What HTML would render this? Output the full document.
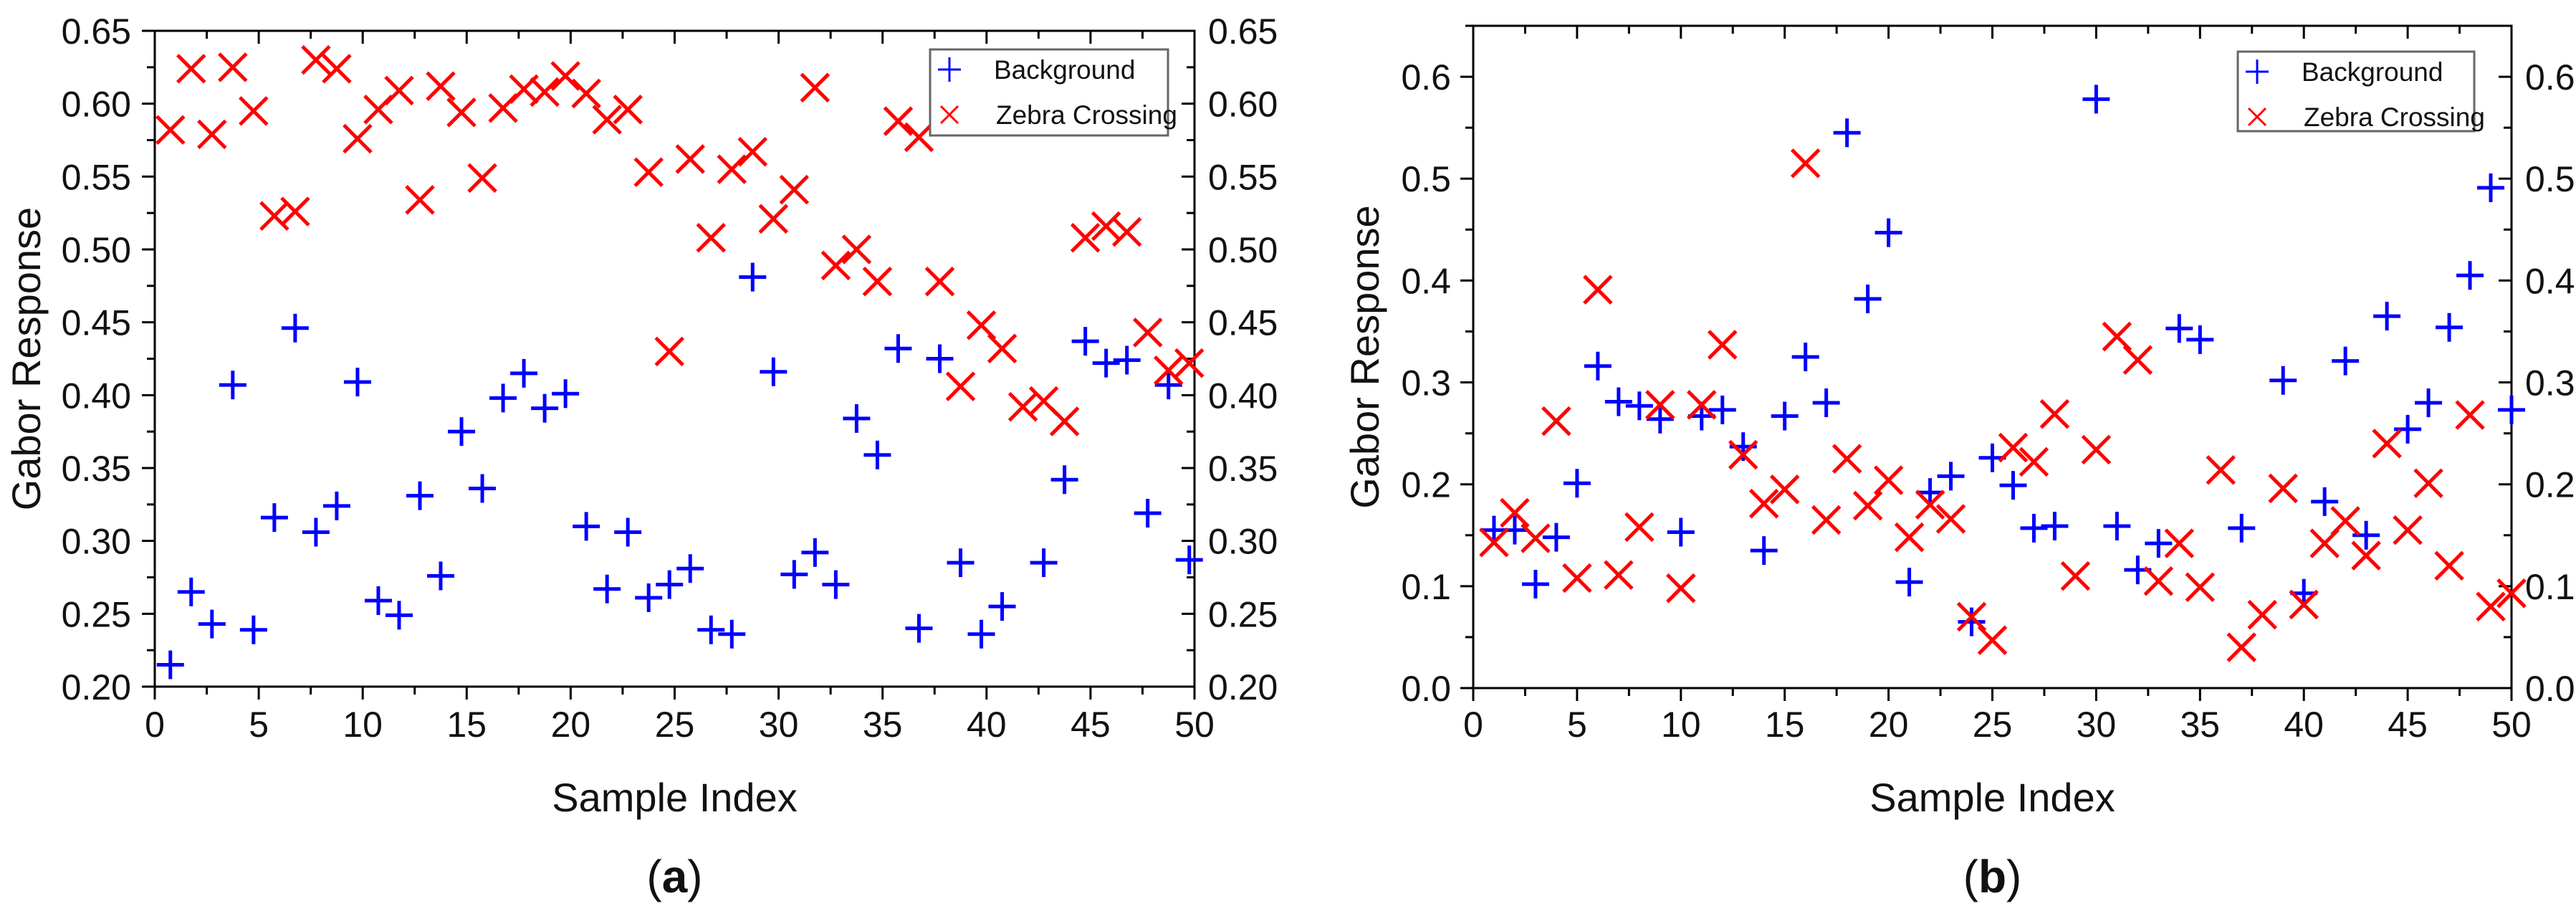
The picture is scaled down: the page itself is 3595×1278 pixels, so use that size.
<!DOCTYPE html>
<html><head><meta charset="utf-8"><style>
html,body{margin:0;padding:0;background:#fff}
svg{display:block}
text{font-family:"Liberation Sans",sans-serif;fill:#111}
</style></head><body>
<svg id="root" width="3595" height="1278" viewBox="0 0 3595 1278" xmlns="http://www.w3.org/2000/svg">
<g id="chartA"></g>
<g id="chartB"></g>
</svg>
<script>
// Chart (a) data
const aBgX = [1,2,3,4,5,6,7,8,9,10,11,12,13,14,15,16,17,18,19,20,21,22,23,24,25,26,27,28,29,30,31,32,33,34,35,36,37,38,39,40,41,43,44,45,46,47,48,49,50];
const aBgY = [0.215,0.265,0.243,0.407,0.239,0.316,0.446,0.306,0.324,0.409,0.259,0.249,0.331,0.276,0.375,0.336,0.398,0.415,0.391,0.401,0.310,0.267,0.306,0.261,0.270,0.281,0.239,0.236,0.481,0.416,0.277,0.292,0.270,0.384,0.359,0.432,0.240,0.425,0.285,0.236,0.255,0.285,0.342,0.437,0.422,0.424,0.319,0.407,0.287];
const aZcX = [1,2,3,4,5,6,7,8,9,10,11,12,13,14,15,16,17,18,19,20,21,22,23,24,25,26,27,28,29,30,31,32,33,34,35,36,37,38,39,40,41,42,43,44,45,46,47,48,49,50];
const aZcY = [0.582,0.624,0.579,0.625,0.595,0.523,0.526,0.630,0.624,0.576,0.596,0.609,0.534,0.612,0.594,0.549,0.597,0.610,0.608,0.619,0.607,0.589,0.596,0.553,0.430,0.562,0.508,0.555,0.567,0.521,0.541,0.611,0.489,0.500,0.478,0.588,0.577,0.478,0.406,0.448,0.432,0.392,0.396,0.382,0.508,0.516,0.512,0.443,0.417,0.422];
const aYTicks = ["0.20","0.25","0.30","0.35","0.40","0.45","0.50","0.55","0.60","0.65"];
// Chart (b) data
const bBgX = [1,2,3,4,5,6,7,8,9,10,11,12,13,14,15,16,17,18,19,20,21,22,23,24,25,26,27,28,30,31,32,33,34,35,37,39,40,41,42,43,44,45,46,47,48,49,50];
const bBgY = [0.155,0.155,0.102,0.148,0.201,0.316,0.281,0.277,0.264,0.153,0.267,0.273,0.237,0.135,0.267,0.325,0.280,0.545,0.382,0.447,0.104,0.192,0.208,0.065,0.226,0.199,0.157,0.159,0.578,0.159,0.116,0.142,0.353,0.342,0.157,0.302,0.093,0.183,0.321,0.150,0.365,0.254,0.280,0.354,0.405,0.491,0.273];
const bZcX = [1,2,3,4,5,6,7,8,9,10,11,12,13,14,15,16,17,18,19,20,21,22,23,24,25,26,27,28,29,30,31,32,33,34,35,36,37,38,39,40,41,42,43,44,45,46,47,48,49,50];
const bZcY = [0.143,0.172,0.147,0.262,0.108,0.391,0.111,0.158,0.278,0.098,0.278,0.337,0.229,0.181,0.195,0.515,0.165,0.225,0.179,0.204,0.148,0.180,0.166,0.070,0.047,0.236,0.222,0.269,0.110,0.234,0.345,0.322,0.105,0.142,0.099,0.214,0.040,0.072,0.196,0.082,0.142,0.164,0.130,0.240,0.155,0.201,0.120,0.268,0.080,0.093];
const bYTicks = ["0.0","0.1","0.2","0.3","0.4","0.5","0.6"];
const xTicks = ["0","5","10","15","20","25","30","35","40","45","50"];

const NS = "http://www.w3.org/2000/svg";
function mk(parent, tag, attrs){const e=document.createElementNS(NS,tag);for(const k in attrs)e.setAttribute(k,attrs[k]);parent.appendChild(e);return e;}

function drawChart(g, cfg){
  const {L,R,T,B,ymin,ymax,yMajor,yMinorStep,yTicks,bgX,bgY,zcX,zcY,xOff,legend,label,ytitleX,leftLabelX,rightLabelX} = cfg;
  const sx = v => L + (v-0)/(50-0)*(R-L);
  const sy = v => B - (v-ymin)/(ymax-ymin)*(B-T);
  const frame = mk(g,'rect',{x:L,y:T,width:R-L,height:B-T,fill:'none',stroke:'#000','stroke-width':3});
  
  
  // x ticks
  for(let v=0; v<=50.001; v+=2.5){
    const major = Math.abs(v%5)<0.001;
    const len = major?18:11;
    mk(g,'line',{x1:sx(v),x2:sx(v),y1:B,y2:B+len,stroke:'#000','stroke-width':3});
    mk(g,'line',{x1:sx(v),x2:sx(v),y1:T,y2:T+len,stroke:'#000','stroke-width':3});
  }
  xTicks.forEach(t=>{
    const tx = mk(g,'text',{x:sx(+t),y:1028,'font-size':50,'text-anchor':'middle'});
    tx.textContent=t;
    
    
  });
  // y ticks
  for(let v=ymin; v<=ymax+1e-6; v+=yMinorStep){
    const major = Math.abs(Math.round((v-ymin)/yMajor)*yMajor-(v-ymin))<1e-6;
    const len = major?18:11;
    mk(g,'line',{x1:L-len,x2:L,y1:sy(v),y2:sy(v),stroke:'#000','stroke-width':3});
    mk(g,'line',{x1:R-len,x2:R,y1:sy(v),y2:sy(v),stroke:'#000','stroke-width':3});
  }
  yTicks.forEach(t=>{
    const a = mk(g,'text',{x:leftLabelX,y:sy(+t)+18,'font-size':50,'text-anchor':'end'});
    a.textContent=t;
    
    
    const b = mk(g,'text',{x:rightLabelX,y:sy(+t)+18,'font-size':50,'text-anchor':'start'});
    b.textContent=t;
    
    
  });
  // titles
  const xt = mk(g,'text',{x:(L+R)/2,y:1132,'font-size':56,'text-anchor':'middle'});
  xt.textContent='Sample Index';
  
  
  const yt = mk(g,'text',{x:0,y:0,'font-size':56,'text-anchor':'middle',transform:`translate(${ytitleX},${(T+B)/2}) rotate(-90)`});
  yt.textContent='Gabor Response';
  
  
  const lab = mk(g,'text',{x:(L+R)/2,y:1245,'font-size':64,'text-anchor':'middle','font-family':'Liberation Serif, serif'});
  lab.innerHTML='(<tspan font-weight="bold">'+label+'</tspan>)';
  
  
  // markers
  const h=19;
  bgX.forEach((x,i)=>{
    const cx=sx(x+xOff), cy=sy(bgY[i]);
    const p = mk(g,'path',{d:`M${cx-h} ${cy}H${cx+h}M${cx} ${cy-20}V${cy+20}`,stroke:'#0000ff','stroke-width':5,fill:'none'});
    
    
  });
  zcX.forEach((x,i)=>{
    const cx=sx(x+xOff), cy=sy(zcY[i]);
    const p = mk(g,'path',{d:`M${cx-h} ${cy-h}L${cx+h} ${cy+h}M${cx-h} ${cy+h}L${cx+h} ${cy-h}`,stroke:'#ff0000','stroke-width':5,fill:'none'});
    
    
  });
  // legend
  const lg = mk(g,'g',{});
  
  
  const [lx1,ly1,lx2,ly2]=legend;
  mk(lg,'rect',{x:lx1,y:ly1,width:lx2-lx1,height:ly2-ly1,fill:'#fff',stroke:'#666','stroke-width':3});
  const r1=ly1+28, r2=ly1+91, mx=lx1+27;
  mk(lg,'path',{d:`M${mx-16} ${r1}H${mx+16}M${mx} ${r1-17}V${r1+17}`,stroke:'#0000ff','stroke-width':3,fill:'none'});
  mk(lg,'path',{d:`M${mx-12} ${r2-12}L${mx+12} ${r2+12}M${mx-12} ${r2+12}L${mx+12} ${r2-12}`,stroke:'#ff0000','stroke-width':3,fill:'none'});
  const t1=mk(lg,'text',{x:lx1+89,y:r1+13,'font-size':37});t1.textContent='Background';
  
  
  const t2=mk(lg,'text',{x:lx1+92,y:r2+13,'font-size':37});t2.textContent='Zebra Crossing';
  
  
}

drawChart(document.getElementById('chartA'),{L:216,R:1667,T:43,B:958,ymin:0.20,ymax:0.65,yMajor:0.05,yMinorStep:0.025,yTicks:aYTicks,bgX:aBgX,bgY:aBgY,zcX:aZcX,zcY:aZcY,xOff:-0.25,legend:[1298,69,1630,189],label:'a',ytitleX:56,leftLabelX:183,rightLabelX:1686});
drawChart(document.getElementById('chartB'),{L:2056,R:3505,T:36,B:960,ymin:0,ymax:0.65,yMajor:0.1,yMinorStep:0.05,yTicks:bYTicks,bgX:bBgX,bgY:bBgY,zcX:bZcX,zcY:bZcY,xOff:0,legend:[3123,72,3453,183],label:'b',ytitleX:1924,leftLabelX:2025,rightLabelX:3524});
</script>
</body></html>
